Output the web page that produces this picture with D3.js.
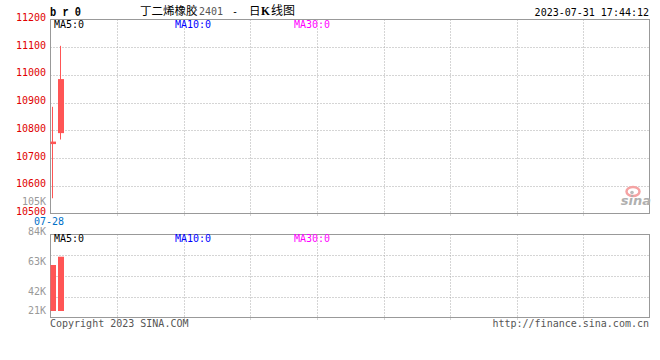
<!DOCTYPE html>
<html><head><meta charset="utf-8">
<script src="https://cdn.jsdelivr.net/npm/d3@7"></script>
<style>
body{margin:0;background:#fff;}
svg{display:block;}
text{font-family:"DejaVu Sans Mono","Liberation Mono",monospace;font-size:10px;}
</style></head>
<body>
<svg id="c" width="660" height="360"></svg>
<script>
// ---- data ----
const dates = ["07-28", "07-31"];
const openP = [10755, 10790];
const closeP = [10755, 10985];
const highP = [10885, 11105];
const lowP = [10555, 10767];
const volumes = [61250, 67050];
const priceTicks = [10500, 10600, 10700, 10800, 10900, 11000, 11100, 11200];
const volTicks = [21000, 42000, 63000, 84000, 105000];
const volTickLabels = ["21K", "42K", "63K", "84K", "105K"];
const dateLabels = ["07-28"];
const maLabels = ["MA5:0", "MA10:0", "MA30:0"];
const maColors = ["#000", "#0000ff", "#ff00ff"];

const svg = d3.select("#c");
const L = 50.5, R = 649.5;
const pTop = 19.5, pBot = 213.5;
const vTop = 234.5, vBot = 317.5;

const y = d3.scaleLinear().domain([10500, 11200]).range([pBot, pTop]);
const yv = d3.scaleLinear().domain([0, 105000]).range([352.5, 202.5]);
const x = d3.scaleLinear().domain([0, 1]).range([53, 61]);
const gx = d3.scaleLinear().domain([0, 9]).range([L, R + 0.5]);

const red = "#ff5555";

// ---- grids ----
function grid(top, bot, nH) {
  const g = svg.append("g");
  for (let i = 1; i < 9; i++) {
    const xx = Math.round(gx(i)) + 0.5;
    g.append("line").attr("x1", xx).attr("x2", xx).attr("y1", top).attr("y2", bot + 3)
      .attr("stroke", "#aaa").attr("stroke-dasharray", "1,2");
  }
  for (let i = 1; i < nH; i++) {
    const yy = Math.round(top + (bot - top) * i / nH) + 0.5;
    g.append("line").attr("x1", L).attr("x2", R).attr("y1", yy).attr("y2", yy)
      .attr("stroke", "#aaa").attr("stroke-dasharray", "1,2");
  }
  g.append("rect").attr("x", L).attr("y", top).attr("width", R - L).attr("height", bot - top)
    .attr("fill", "none").attr("stroke", "#999");
}
grid(pTop, pBot, 7);
grid(vTop, vBot, 4);

// ---- price axis labels ----
svg.append("g").selectAll("text").data(priceTicks).join("text")
  .attr("x", 46).attr("y", d => Math.max(y(d) - 2, 16))
  .attr("text-anchor", "end").attr("dominant-baseline", "central")
  .attr("fill", "#e00000").text(d => d);

// ---- volume axis labels ----
svg.append("g").selectAll("text").data(volTicks).join("text")
  .attr("x", 46).attr("y", d => Math.min(yv(d) - 1.5, 310))
  .attr("text-anchor", "end").attr("dominant-baseline", "central")
  .attr("fill", "#999").text((d, i) => volTickLabels[i]);

// ---- date label ----
svg.append("g").selectAll("text").data(dateLabels).join("text")
  .attr("x", 49).attr("y", 221).attr("text-anchor", "middle").attr("dominant-baseline", "central")
  .attr("fill", "#0070c8").text(d => d);

// ---- candles ----
const cg = svg.append("g");
dates.forEach((d, i) => {
  const c = x(i);
  cg.append("rect").attr("x", c - 1).attr("width", 1)
    .attr("y", y(highP[i])).attr("height", y(lowP[i]) - y(highP[i])).attr("fill", red);
  const t = y(Math.max(openP[i], closeP[i])), b = y(Math.min(openP[i], closeP[i]));
  const h = Math.max(b - t, 2.5);
  cg.append("rect").attr("x", Math.max(c - 3, L)).attr("width", c + 3 - Math.max(c - 3, L))
    .attr("y", t - (b - t < 2.5 ? 1.25 : 0)).attr("height", h).attr("fill", red);
});

// ---- volume bars ----
svg.append("g").selectAll("rect").data(volumes).join("rect")
  .attr("x", (d, i) => Math.max(x(i) - 3, L)).attr("width", (d, i) => x(i) + 3 - Math.max(x(i) - 3, L))
  .attr("y", d => yv(d)).attr("height", d => (vBot - 6.5) - yv(d)).attr("fill", red);

// ---- MA labels ----
const maX = [54, 175, 294];
[24.5, 238.5].forEach(yy => {
  maLabels.forEach((m, i) => {
    svg.append("text").attr("x", maX[i]).attr("y", yy).attr("dominant-baseline", "central")
      .attr("fill", maColors[i]).text(m);
  });
});

// ---- title ----
svg.append("text").attr("x", 50).attr("y", 15.5)
  .attr("font-weight", "bold").style("font-size", "13px").style("font-family", "'Liberation Mono',monospace")
  .attr("textLength", 31).attr("lengthAdjust", "spacingAndGlyphs")
  .attr("fill", "#000").text("b r 0");
const tt = svg.append("text").attr("y", 15).attr("fill", "#000");
tt.append("tspan").attr("x", 140).style("font-family", "'Noto Sans CJK SC'").style("font-size", "11.5px").text("丁二烯橡胶");
tt.append("tspan").attr("x", 199).attr("fill", "#555").style("font-size", "10px").text("2401");
tt.append("tspan").attr("x", 232).style("font-size", "10px").text("-");
tt.append("tspan").attr("x", 249).style("font-family", "'Noto Sans CJK SC'").style("font-size", "11.5px").text("日");
tt.append("tspan").attr("x", 261).attr("font-weight", "bold").style("font-family", "'Liberation Serif',serif").style("font-size", "11.5px").text("K");
tt.append("tspan").attr("x", 271).style("font-family", "'Noto Sans CJK SC'").style("font-size", "12px").text("线图");

svg.append("text").attr("x", 649).attr("y", 12).attr("text-anchor", "end").attr("dominant-baseline", "central")
  .attr("fill", "#000").text("2023-07-31 17:44:12");

// ---- footer ----
svg.append("text").attr("x", 50).attr("y", 323.5).attr("dominant-baseline", "central")
  .attr("fill", "#555").text("Copyright 2023 SINA.COM");
svg.append("text").attr("x", 649).attr("y", 323.5).attr("text-anchor", "end").attr("dominant-baseline", "central")
  .attr("fill", "#555").text("http://finance.sina.com.cn");

// ---- sina logo ----
const lg = svg.append("g");
lg.append("ellipse").attr("cx", 633).attr("cy", 191.5).attr("rx", 6.5).attr("ry", 4.5)
  .attr("fill", "none").attr("stroke", "#f5a3a3").attr("stroke-width", 2.5);
lg.append("circle").attr("cx", 632).attr("cy", 192.5).attr("r", 1.8).attr("fill", "#bbb");
lg.append("text").attr("x", 651).attr("y", 205).attr("text-anchor", "end")
  .style("font-family", "'DejaVu Sans',sans-serif").style("font-size", "13px")
  .attr("font-style", "italic").attr("font-weight", "bold").attr("fill", "#b0b0b0").text("sina");
</script>
</body></html>
